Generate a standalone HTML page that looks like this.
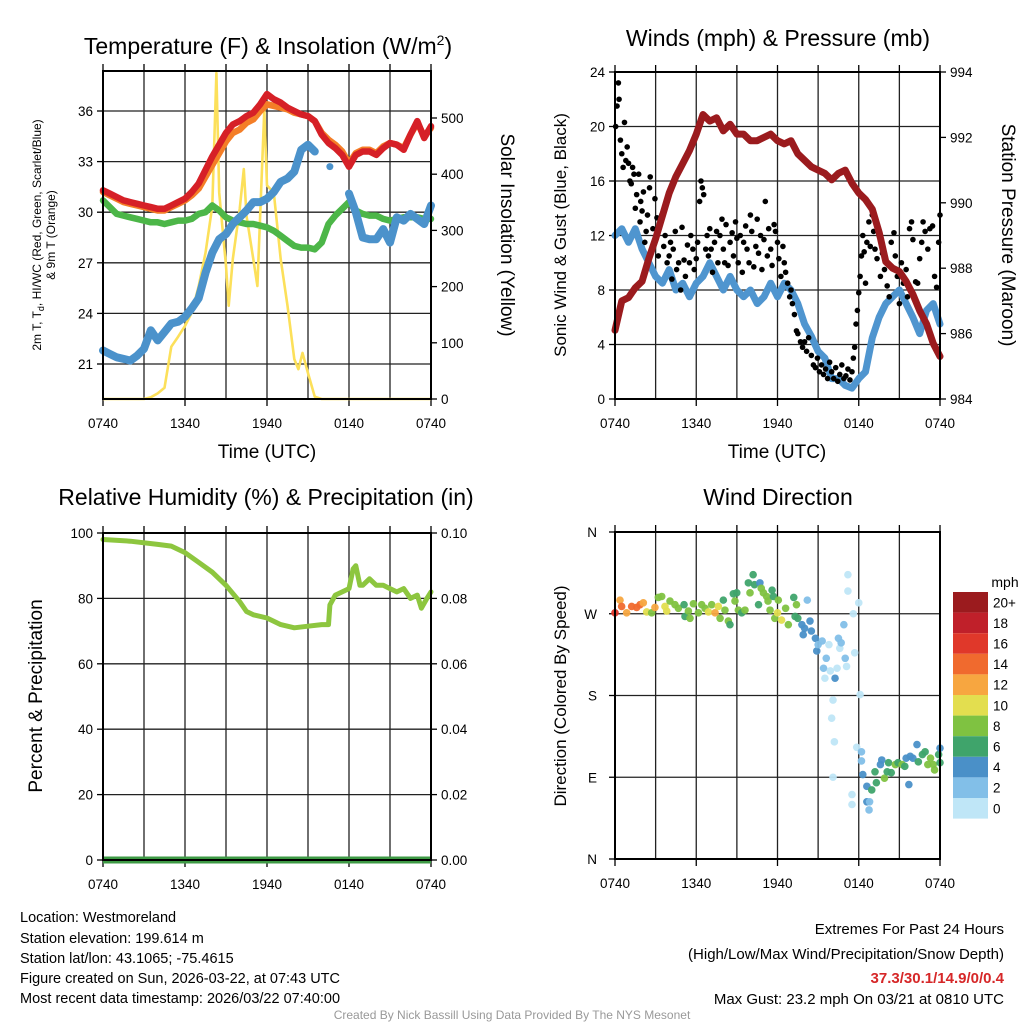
<!DOCTYPE html>
<html><head><meta charset="utf-8">
<style>
html,body{margin:0;padding:0;background:#fff;}
svg{display:block;font-family:"Liberation Sans",sans-serif;}
</style></head>
<body>
<svg id="chart" width="1024" height="1024" viewBox="0 0 1024 1024">
<g id="static">
<text x="268" y="54" font-size="23" text-anchor="middle">Temperature (F) &amp; Insolation (W/m<tspan font-size="14" dy="-9">2</tspan><tspan dy="9">)</tspan></text>
<text x="778" y="46" font-size="23" text-anchor="middle">Winds (mph) &amp; Pressure (mb)</text>
<text x="266" y="505" font-size="23" text-anchor="middle">Relative Humidity (%) &amp; Precipitation (in)</text>
<text x="778" y="505" font-size="23" text-anchor="middle">Wind Direction</text>
<text x="267" y="458" font-size="19" text-anchor="middle">Time (UTC)</text>
<text x="777" y="458" font-size="19" text-anchor="middle">Time (UTC)</text>
<text transform="translate(41,235) rotate(-90)" font-size="12" text-anchor="middle">2m T, T<tspan font-size="9" dy="3">d</tspan><tspan dy="-3">, HI/WC (Red, Green, Scarlet/Blue)</tspan></text>
<text transform="translate(55,235) rotate(-90)" font-size="12" text-anchor="middle">&amp; 9m T (Orange)</text>
<text transform="translate(501,235) rotate(90)" font-size="19" text-anchor="middle">Solar Insolation (Yellow)</text>
<text transform="translate(566,235) rotate(-90)" font-size="17" text-anchor="middle">Sonic Wind &amp; Gust (Blue, Black)</text>
<text transform="translate(1002,235) rotate(90)" font-size="19" text-anchor="middle">Station Pressure (Maroon)</text>
<text transform="translate(42,696) rotate(-90)" font-size="19" text-anchor="middle">Percent &amp; Precipitation</text>
<text transform="translate(566,696) rotate(-90)" font-size="17" text-anchor="middle">Direction (Colored By Speed)</text>
<text x="1005" y="587" font-size="14" text-anchor="middle">mph</text>
<g font-size="14.5">
<text x="20" y="922">Location: Westmoreland</text>
<text x="20" y="943">Station elevation: 199.614 m</text>
<text x="20" y="963">Station lat/lon: 43.1065; -75.4615</text>
<text x="20" y="983">Figure created on Sun, 2026-03-22, at 07:43 UTC</text>
<text x="20" y="1003">Most recent data timestamp: 2026/03/22 07:40:00</text>
</g>
<g font-size="15" text-anchor="end">
<text x="1004" y="934">Extremes For Past 24 Hours</text>
<text x="1004" y="959">(High/Low/Max Wind/Precipitation/Snow Depth)</text>
<text x="1004" y="983" fill="#d62728" font-weight="bold">37.3/30.1/14.9/0/0.4</text>
<text x="1004" y="1004">Max Gust: 23.2 mph On 03/21 at 0810 UTC</text>
</g>
<text x="512" y="1019" font-size="12" fill="#999" text-anchor="middle">Created By Nick Bassill Using Data Provided By The NYS Mesonet</text>
</g>
<g id="dyn"></g>
</svg>
<script>
// ---------- DATA ----------
const timeTickLabels = ["0740","1340","1940","0140","0740"];
const timeTickHours = [0,6,12,18,24];
const halfHours = [0,0.5,1,1.5,2,2.5,3,3.5,4,4.5,5,5.5,6,6.5,7,7.5,8,8.5,9,9.5,10,10.5,11,11.5,12,12.5,13,13.5,14,14.5,15,15.5,16,16.5,17,17.5,18,18.5,19,19.5,20,20.5,21,21.5,22,22.5,23,23.5,24];
const tempHI = [31.3,31.1,30.9,30.7,30.6,30.5,30.4,30.3,30.2,30.2,30.4,30.6,30.8,31.2,31.7,32.5,33.3,34.0,34.7,35.2,35.4,35.7,35.9,36.4,37.0,36.7,36.5,36.2,36.0,35.8,35.7,35.4,34.6,34.1,33.8,33.4,32.7,33.4,33.6,33.6,33.4,33.8,34.1,34.0,33.7,34.6,35.4,34.4,35.1];
const temp9m = [31.2,31.0,30.8,30.6,30.5,30.4,30.3,30.2,30.1,30.1,30.3,30.5,30.7,31.0,31.4,32.1,32.8,33.5,34.2,34.7,34.9,35.3,35.5,36.0,36.4,36.3,36.2,36.1,35.9,35.8,35.7,35.4,34.7,34.3,34.0,33.6,32.9,33.5,33.7,33.7,33.5,33.9,34.1,34.0,33.8,34.6,35.3,34.5,35.0];
const tempDew = [30.7,30.3,29.9,29.8,29.7,29.6,29.5,29.4,29.4,29.3,29.4,29.5,29.5,29.6,29.9,30.0,30.4,30.1,29.7,29.5,29.4,29.3,29.3,29.2,29.1,28.9,28.6,28.3,28.0,27.9,27.9,27.8,28.2,29.3,29.8,30.2,30.6,30.1,29.9,29.8,29.8,29.6,29.5,29.6,29.7,29.7,29.7,29.6,29.6];
const tempWC = [21.8,21.6,21.4,21.3,21.2,21.5,21.9,23.0,22.4,22.9,23.4,23.5,23.8,24.3,24.9,26.4,27.6,28.4,28.7,29.3,29.7,30.1,30.6,30.6,30.8,31.2,31.8,32.0,32.4,33.7,34.0,33.6,null,32.7,null,null,31.1,30.0,28.5,28.4,28.4,29.0,28.2,29.7,29.5,29.9,29.6,29.3,30.4];
const solarHours = [0,3,3.5,4,4.5,5,5.5,6,6.5,7,7.5,8,8.3,8.5,9,9.2,9.5,10,10.3,10.5,11,11.3,11.8,12,12.5,13,13.5,14,14.3,14.6,15,15.5,16,24];
const solarVals = [0,0,3,10,20,93,111,130,154,201,260,343,580,367,237,166,249,338,409,326,249,201,514,380,367,249,166,71,53,82,46,4,0,0];
const windSpeed = [12,12.5,11.5,12.5,11,10,9,8.5,9.5,8,8.5,7.5,8.5,9,10,9,8,9,8,7.5,8,7,7.5,8.5,7.5,8.5,8,7,5.5,4.6,3.5,3,1.5,1.5,1,0.8,1.5,2,4.5,6,7,7.5,8,7,6,4.8,6.5,7,5.5];
const pressure = [986.1,987.0,987.1,987.4,987.6,988.3,988.9,989.6,990.3,990.8,991.2,991.6,992.1,992.7,992.5,992.6,992.2,992.4,992.1,992.1,991.9,991.9,992.0,992.1,991.9,991.8,991.9,991.5,991.3,991.1,991.0,990.9,990.7,990.9,991.0,990.6,990.3,990.1,989.8,989.1,988.2,988.0,987.9,987.6,987.2,986.7,986.3,985.7,985.3];
const gustTimes = [0.05,0.15,0.25,0.3,0.4,0.5,0.6,0.7,0.8,0.9,1.0,1.1,1.2,1.3,1.4,1.5,1.6,1.75,1.85,1.9,2.0,2.1,2.2,2.3,2.4,2.55,2.6,2.7,2.8,2.95,3.1,3.2,3.3,3.45,3.6,3.7,3.85,4.0,4.1,4.2,4.3,4.45,4.55,4.7,4.85,4.95,5.1,5.2,5.35,5.5,5.6,5.75,5.85,6.0,6.1,6.25,6.35,6.45,6.55,6.7,6.8,6.9,7.0,7.1,7.2,7.35,7.5,7.6,7.75,7.9,8.0,8.1,8.2,8.35,8.5,8.65,8.75,8.9,9.0,9.1,9.25,9.4,9.5,9.65,9.75,9.9,10.0,10.1,10.25,10.4,10.5,10.6,10.75,10.85,11.0,11.1,11.25,11.35,11.5,11.6,11.75,11.85,12.0,12.1,12.25,12.4,12.5,12.6,12.75,12.9,13.0,13.1,13.25,13.4,13.5,13.7,13.85,14.0,14.15,14.3,14.5,14.65,14.8,14.95,15.1,15.25,15.4,15.55,15.7,15.85,16.0,16.15,16.3,16.45,16.6,16.75,16.9,17.05,17.2,17.35,17.5,17.6,17.7,17.8,17.9,18.0,18.1,18.2,18.3,18.4,18.5,18.6,18.75,18.85,19.0,19.1,19.2,19.35,19.5,19.6,19.75,19.9,20.1,20.25,20.4,20.6,20.7,20.85,21.0,21.15,21.3,21.5,21.6,21.75,21.9,22.0,22.2,22.35,22.5,22.65,22.75,22.9,23.1,23.25,23.45,23.6,23.75,23.9,24.0];
const gustVals = [20,21.5,23.2,22,19,18,17,20.3,17.5,18.5,17.3,16,15.8,17,16.5,14,15,16.5,13,14.5,13.8,15.2,11.5,12.3,13.5,15.5,16.3,10.8,12.5,14.7,13.3,10.5,12.8,13.5,11.2,12,10,10.5,11.5,8.8,11,12.3,9.5,10,8,12.6,10.2,9,11.3,10,12,11,9.5,10.3,11.5,14.5,16,15.5,15,11,12,10.5,12.5,11,9.3,11.5,12.3,10,12,13.2,11,10,12.8,9.8,11.5,12.2,10.5,13,11.8,10,12,9.3,11.5,12.7,11,10,13.5,12.3,9.7,11.2,13.2,10.7,12,9.5,11.7,14.5,10.5,12.5,11,9.8,12.8,12.3,11.5,10.3,9,11.2,10,9.3,8.5,7.5,8,7,6.2,5,4.8,4.2,3.8,4.2,3.5,4.5,3.2,2.5,2.3,3,2,2.5,1.8,2.2,1.5,2.7,2,1.5,2.3,1.3,1.8,2.5,1.5,1.7,2.2,1.4,2,3,3.8,5.5,6.5,7.8,9,10.5,12,10.8,8.5,11.5,13,11.2,13.5,12.3,11,10.3,12,9,10.7,9.5,8.3,7.5,11.5,12.2,10.5,9,7,10,8.5,9.5,7.5,12.5,13,11.7,8.6,8.5,10.3,11.5,13,12.3,11,12.5,12.7,9,8.2,11.5,13.5];
const rhHours = [0,2,4,5,6,7,8,9,10,10.5,11,12,13,14,15,16,16.5,16.6,17,17.5,18,18.3,18.5,18.8,19,19.5,20,20.5,21,21.5,22,22.5,23,23.3,23.7,24];
const rhVals = [98,97.5,96.5,96,94,91,88,84,79,76,75,74,72,71,71.5,72,72,78,81,82,83,89,90,84,84,86,84,84,83,82,83,80,81,77,80,82];
const precipHours = [0,24];
const precipVals = [0,0];
const dirHours = [0,0.37,0.49,0.86,1.23,1.6,1.85,2.09,2.34,2.71,2.95,3.2,3.45,3.69,3.82,4.06,4.43,4.68,5.1,5.17,5.42,5.79,5.54,6.16,6.4,6.65,6.9,7.14,7.39,7.63,7.76,8.0,8.12,8.37,8.49,8.74,8.86,8.99,9.11,9.36,9.6,9.85,9.97,10.2,10.3,10.6,10.7,10.8,10.96,11.2,11.3,11.45,11.6,11.7,11.8,12.0,12.06,12.3,12.6,12.8,13.2,13.3,13.4,13.5,13.8,13.9,14.2,14.0,14.4,14.5,14.8,14.9,15.0,15.3,15.4,15.5,15.6,15.8,15.9,16.1,16.0,16.2,16.25,16.4,16.5,16.6,16.7,16.9,17.0,17.1,17.2,17.2,17.6,17.7,18.0,18.1,16.1,17.5,17.5,17.85,18.2,18.2,18.3,18.6,18.6,18.8,18.76,18.96,19.2,19.3,19.6,19.7,19.9,20.1,20.2,20.4,20.7,20.9,21.2,21.4,21.5,21.7,21.8,22.0,22.3,22.4,22.7,22.9,23.1,23.3,23.5,23.6,23.9,24.0,24.0];
const dirDeg = [271,285,278,271,278,277,280,282,272,271,277,288,289,278,273,284,280,276,280,267,273,281,265,271,280,276,272,280,271,278,265,285,274,262,258,292,284,293,274,271,274,304,293,313,302,280,304,298,293,289,284,274,296,289,265,271,285,263,276,258,288,267,280,265,258,247,285,254,262,251,243,229,236,240,210,199,221,236,207,175,155,129,199,210,243,232,238,258,221,212,313,295,270,227,282,181,90,71,60,123,118,108,93,80,63,63,54,76,96,84,104,109,89,96,106,95,104,106,104,102,111,82,113,111,126,107,115,118,104,111,104,98,115,122,106];
const dirSpeed = [16,12,14,12,14,14,14,12,10,8,12,8,8,10,10,8,8,8,6,6,8,8,8,8,8,8,10,8,12,10,8,6,8,8,6,6,8,6,8,6,8,6,8,6,6,6,4,8,8,8,8,8,6,6,8,10,8,10,8,8,6,6,8,6,4,4,2,4,4,4,4,4,2,2,2,0,2,0,0,0,0,0,4,0,2,0,2,2,2,0,0,0,0,0,0,0,0,0,0,0,2,2,4,4,4,2,2,6,6,6,4,4,8,6,6,6,8,6,8,6,4,4,4,4,4,6,6,6,8,8,8,8,6,4,6];
const speedBins = ["0","2","4","6","8","10","12","14","16","18","20+"];
const speedColors = ["#bfe6f7","#82bfe8","#4a90c8","#3fa46b","#7fc241","#e3de4f","#f7a640","#f06a2e","#e0382a","#c0202a","#9b1b1e"];
const tempTicks = [21,24,27,30,33,36];
const solarTicks = [0,100,200,300,400,500];
const windTicks = [0,4,8,12,16,20,24];
const pressTicks = [984,986,988,990,992,994];
const rhTicks = [0,20,40,60,80,100];
const precipTicks = ["0.00","0.02","0.04","0.06","0.08","0.10"];
const dirTicks = ["N","E","S","W","N"];

// ---------- HELPERS ----------
const NS = "http://www.w3.org/2000/svg";
const root = document.getElementById("dyn");
function mk(tag, attrs, parent){
  const e = document.createElementNS(NS, tag);
  for (const k in attrs) e.setAttribute(k, attrs[k]);
  (parent || root).appendChild(e);
  return e;
}
function lin(d0,d1,r0,r1){ return v => r0 + (v-d0)/(d1-d0)*(r1-r0); }

const P1 = {x0:103,x1:431,y0:71,y1:399};
const P2 = {x0:615,x1:940,y0:72,y1:399};
const P3 = {x0:103,x1:431,y0:533,y1:860};
const P4 = {x0:615,x1:940,y0:532,y1:859};

function frame(P, name){
  const g = mk("g", {});
  
  
  for (let i=1;i<8;i++){
    const x = P.x0 + (P.x1-P.x0)*i/8;
    mk("line",{x1:x,x2:x,y1:P.y0,y2:P.y1,stroke:"#222","stroke-width":1.3},g);
  }
  return g;
}
function border(P, name){
  const r = mk("rect",{x:P.x0,y:P.y0,width:P.x1-P.x0,height:P.y1-P.y0,fill:"none",stroke:"#000","stroke-width":2});
  
  
}
function hgrid(P, ys, g){
  ys.forEach(y => mk("line",{x1:P.x0,x2:P.x1,y1:y,y2:y,stroke:"#222","stroke-width":1.3},g));
}
function timeAxis(P, name){
  const sx = lin(0,24,P.x0,P.x1);
  const g = mk("g",{"font-size":13.5,"text-anchor":"middle"});
  
  
  timeTickHours.forEach((h,i)=>{
    const t = mk("text",{x:sx(h),y:P.y1+29},g);
    t.textContent = timeTickLabels[i];
    mk("line",{x1:sx(h),x2:sx(h),y1:P.y1,y2:P.y1+7,stroke:"#000","stroke-width":1.3},g);
  });
  for (let i=0;i<=8;i++){
    const x = P.x0+(P.x1-P.x0)*i/8;
    mk("line",{x1:x,x2:x,y1:P.y0-7,y2:P.y0,stroke:"#000","stroke-width":1.3},g);
  }
  return sx;
}
function yLabels(P, vals, sy, side, name){
  const g = mk("g",{"font-size":13.5,"text-anchor": side==="left"?"end":"start"});
  
  
  vals.forEach(v=>{
    const y = sy(typeof v==="string"?parseFloat(v):v);
    const x = side==="left" ? P.x0-10 : P.x1+10;
    const t = mk("text",{x:x,y:y+5},g);
    t.textContent = v;
    const xt = side==="left" ? P.x0-6 : P.x1;
    mk("line",{x1:xt,x2:xt+6,y1:y,y2:y,stroke:"#000","stroke-width":1.3},g);
  });
}
function pathFrom(xs, ys, sx, sy){
  let d = "", pen = false;
  for (let i=0;i<xs.length;i++){
    if (ys[i]===null){ pen=false; continue; }
    d += (pen?"L":"M") + sx(xs[i]).toFixed(1) + "," + sy(ys[i]).toFixed(1);
    pen = true;
  }
  return d;
}

// ---------- PANEL 1 ----------
const sy1 = lin(21,36,364,111);
const sySol = lin(0,500,399,118);
const g1 = frame(P1,"temp");
hgrid(P1, tempTicks.map(sy1), g1);
const sx1 = timeAxis(P1,"temp");
yLabels(P1, tempTicks, sy1, "left", "temp-y-tick-labels");
yLabels(P1, solarTicks, sySol, "right", "solar-y-tick-labels");
const sol = mk("path",{d:pathFrom(solarHours,solarVals,sx1,sySol),fill:"none",stroke:"#fce05a","stroke-width":2.6,"stroke-linejoin":"round"});


const dew = mk("path",{d:pathFrom(halfHours,tempDew,sx1,sy1),fill:"none",stroke:"#4cb648","stroke-width":6.5,"stroke-linejoin":"round","stroke-linecap":"round"});


const wc = mk("path",{d:pathFrom(halfHours,tempWC,sx1,sy1),fill:"none",stroke:"#4b92cb","stroke-width":8,"stroke-linejoin":"round","stroke-linecap":"round"});


const wcDot = mk("circle",{cx:sx1(16.6),cy:sy1(32.7),r:3.5,fill:"#4b92cb"});


const t9 = mk("path",{d:pathFrom(halfHours,temp9m,sx1,sy1),fill:"none",stroke:"#f47e27","stroke-width":6.5,"stroke-linejoin":"round","stroke-linecap":"round"});


const hi = mk("path",{d:pathFrom(halfHours,tempHI,sx1,sy1),fill:"none",stroke:"#d62027","stroke-width":6.5,"stroke-linejoin":"round","stroke-linecap":"round"});


border(P1,"temp");

// ---------- PANEL 2 ----------
const sy2 = lin(0,24,399,72);
const syP = lin(984,994,399,72);
const g2 = frame(P2,"wind");
hgrid(P2, windTicks.map(sy2), g2);
const sx2 = timeAxis(P2,"wind");
yLabels(P2, windTicks, sy2, "left", "wind-y-tick-labels");
yLabels(P2, pressTicks, syP, "right", "pressure-y-tick-labels");
const ws = mk("path",{d:pathFrom(halfHours,windSpeed,sx2,sy2),fill:"none",stroke:"#4f95cf","stroke-width":7,"stroke-linejoin":"round","stroke-linecap":"round"});


const gg = mk("g",{fill:"#000"});


gustTimes.forEach((t,i)=>{
  const c = mk("circle",{cx:sx2(t),cy:sy2(gustVals[i]),r:2.8},gg);
  
  
});
const pr = mk("path",{d:pathFrom(halfHours,pressure,sx2,syP),fill:"none",stroke:"#9b1b1e","stroke-width":7,"stroke-linejoin":"round","stroke-linecap":"round"});


border(P2,"wind");

// ---------- PANEL 3 ----------
const sy3 = lin(0,100,860,533);
const syPr = lin(0,0.10,860,533);
const g3 = frame(P3,"rh");
hgrid(P3, rhTicks.map(sy3), g3);
const sx3 = timeAxis(P3,"rh");
yLabels(P3, rhTicks, sy3, "left", "rh-y-tick-labels");
yLabels(P3, precipTicks, syPr, "right", "precip-y-tick-labels");
const rh = mk("path",{d:pathFrom(rhHours,rhVals,sx3,sy3),fill:"none",stroke:"#8dc63f","stroke-width":5,"stroke-linejoin":"round","stroke-linecap":"round"});


const pc = mk("path",{d:pathFrom(precipHours,precipVals,sx3,syPr),fill:"none",stroke:"#3e9a45","stroke-width":7});


border(P3,"rh");

// ---------- PANEL 4 ----------
const sy4 = lin(0,360,859,532);
const g4 = frame(P4,"direction");
hgrid(P4, [90,180,270].map(sy4), g4);
const sx4 = timeAxis(P4,"direction");
const dl = mk("g",{"font-size":13.5,"text-anchor":"end"});


dirTicks.forEach((lab,i)=>{
  const y = sy4(i*90);
  const t = mk("text",{x:P4.x0-18,y:y+5},dl);
  t.textContent = lab;
  mk("line",{x1:P4.x0-6,x2:P4.x0,y1:y,y2:y,stroke:"#000","stroke-width":1.3},dl);
});
const dg = mk("g",{});


dirHours.forEach((h,i)=>{
  const bin = Math.min(10, Math.floor(dirSpeed[i]/2));
  const c = mk("circle",{cx:sx4(h),cy:sy4(dirDeg[i]),r:3.8,fill:speedColors[bin],"fill-opacity":0.95},dg);
  
  
});
border(P4,"direction");

// colorbar
const cb = mk("g",{"font-size":13.5});


const cbTop = 592, cbH = 20.6;
for (let i=0;i<speedBins.length;i++){
  const idx = speedBins.length-1-i;
  const r = mk("rect",{x:953,y:cbTop+i*cbH,width:35,height:cbH,fill:speedColors[idx]},cb);
  
  
  const t = mk("text",{x:993,y:cbTop+i*cbH+cbH/2+5},cb);
  t.textContent = speedBins[idx];
}
</script>
</body></html>
